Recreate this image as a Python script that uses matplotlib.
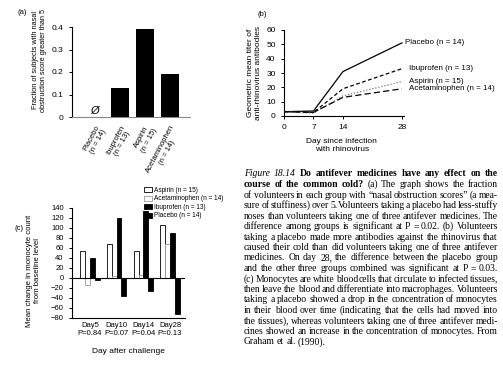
import matplotlib
matplotlib.use('Agg')
import matplotlib.pyplot as plt
import numpy as np

W, H = 503, 379
SANS = 'Liberation Sans'
SERIF = 'Liberation Serif'

# (a) fraction of subjects with nasal obstruction score > 5
a_groups = ['Placebo\n(n = 14)', 'Ibuprofen\n(n = 13)', 'Aspirin\n(n = 15)', 'Acetaminophen\n(n = 14)']
a_values = [0.0, 0.13, 0.39, 0.19]

# (b) geometric mean titer of anti-rhinovirus antibodies
b_days = [0, 7, 14, 28]
b_placebo = [3, 3.5, 31, 51]
b_ibuprofen = [3, 2.5, 19, 33]
b_aspirin = [3, 2, 14, 24]
b_acetaminophen = [3, 2.5, 13, 19]
b_labels = ['Placebo (n = 14)', 'Ibuprofen (n = 13)', 'Aspirin (n = 15)', 'Acetaminophen (n = 14)']

# (c) mean change in monocyte count from baseline
c_days = ['Day5\nP=0.84', 'Day10\nP=0.07', 'Day14\nP=0.04', 'Day28\nP=0.13']
c_aspirin = [54, 68, 54, 106]
c_acetaminophen = [-14, 4, 7, 69]
c_ibuprofen = [40, 121, 135, 91]
c_placebo = [-3, -36, -26, -72]
c_labels = ['Aspirin (n = 15)', 'Acetaminophen (n = 14)', 'Ibuprofen (n = 13)', 'Placebo (n = 14)']

caption = [
    [("Figure 18.14", {'style': 'italic'}), ("Do antifever medicines have any effect on the", {'weight': 'bold'})],
    [("course of the common cold?", {'weight': 'bold'}), ("(a) The graph shows the fraction", {})],
    [("of volunteers in each group with \u201cnasal obstruction scores\u201d (a mea-", {})],
    [("sure of stuffiness) over 5. Volunteers taking a placebo had less-stuffy", {})],
    [("noses than volunteers taking one of three antifever medicines. The", {})],
    [("difference among groups is significant at P = 0.02.", {}), ("(b) Volunteers", {})],
    [("taking a placebo made more antibodies against the rhinovirus that", {})],
    [("caused their cold than did volunteers taking one of three antifever", {})],
    [("medicines. On day 28, the difference between the placebo group", {})],
    [("and the other three groups combined was significant at P = 0.03.", {})],
    [("(c) Monocytes are white blood cells that circulate to infected tissues,", {})],
    [("then leave the blood and differentiate into macrophages. Volunteers", {})],
    [("taking a placebo showed a drop in the concentration of monocytes", {})],
    [("in their blood over time (indicating that the cells had moved into", {})],
    [("the tissues), whereas volunteers taking one of three antifever medi-", {})],
    [("cines showed an increase in the concentration of monocytes. From", {})],
    [("Graham et al. (1990).", {})],
]


def px_rect(left, top, right, bottom):
    # pixel box -> figure fraction rect
    return [left / W, 1 - bottom / H, (right - left) / W, (bottom - top) / H]


plt.rcParams['font.family'] = SANS
plt.rcParams['axes.linewidth'] = 0.8
plt.rcParams['xtick.major.width'] = 0.7
plt.rcParams['ytick.major.width'] = 0.7
plt.rcParams['xtick.major.size'] = 2.5
plt.rcParams['ytick.major.size'] = 2.5

fig = plt.figure(figsize=(W / 100, H / 100), dpi=100)

# ---- panel (a)
ax_a = fig.add_axes(px_rect(72, 27, 190, 117))
xa = np.arange(len(a_groups))
ax_a.bar(xa, a_values, width=0.72, color='black')
ax_a.text(0, 0.006, '\u00d8', ha='center', va='bottom', fontsize=8, style='italic')
ax_a.set_xlim(-0.92, 3.8)
ax_a.set_ylim(0, 0.4)
ax_a.set_yticks([0, 0.1, 0.2, 0.3, 0.4])
ax_a.set_yticklabels(['0', '0.1', '0.2', '0.3', '0.4'], fontsize=6)
ax_a.set_xticks(xa)
ax_a.set_xticklabels(a_groups, fontsize=5.5, rotation=62, ha='right', va='top',
                     rotation_mode='anchor', multialignment='center')
ax_a.tick_params(axis='x', length=0, pad=5)
ax_a.spines['top'].set_visible(False)
ax_a.spines['right'].set_visible(False)
ax_a.spines['bottom'].set_color('#888888')
ax_a.set_ylabel('Fraction of subjects with nasal\nobstruction score greater than 5', fontsize=5.3)
ax_a.yaxis.set_label_coords(-0.21, 0.63)
fig.text(22 / W, 1 - 12 / H, '(a)', fontsize=5.5, ha='center', va='center')

# ---- panel (b)
ax_b = fig.add_axes(px_rect(284, 30, 404, 116))
ax_b.plot(b_days, b_placebo, color='black', lw=0.9, ls='-')
ax_b.plot(b_days, b_ibuprofen, color='black', lw=0.9, ls=(0, (3, 2)))
ax_b.plot(b_days, b_aspirin, color='#777777', lw=0.9, ls=(0, (1, 1.5)))
ax_b.plot(b_days, b_acetaminophen, color='black', lw=0.9, ls=(0, (5, 2.5)))
ends = [b_placebo[-1], b_ibuprofen[-1], b_aspirin[-1], b_acetaminophen[-1]]
offs = [2, 5, 5, 5]
for lab, yv, o in zip(b_labels, ends, offs):
    ax_b.annotate(lab, (b_days[-1], yv), xytext=(o, 0), textcoords='offset points',
                  fontsize=5.8, va='center', ha='left', annotation_clip=False)
ax_b.set_xlim(0, 28.5)
ax_b.set_ylim(0, 60)
ax_b.set_xticks(b_days)
ax_b.set_yticks(range(0, 61, 10))
ax_b.tick_params(labelsize=6)
ax_b.spines['top'].set_visible(False)
ax_b.spines['right'].set_visible(False)
ax_b.set_ylabel('Geometric mean titer of\nanti-rhinovirus antibodies', fontsize=6)
ax_b.yaxis.set_label_coords(-0.18, 0.5)
ax_b.set_xlabel('Day since infection\nwith rhinovirus', fontsize=6)
ax_b.xaxis.set_label_coords(0.48, -0.26)
fig.text(262 / W, 1 - 15 / H, '(b)', fontsize=5.5, ha='center', va='center')

# ---- panel (c)
ax_c = fig.add_axes(px_rect(72, 208, 185, 318))
xc = np.arange(len(c_days))
w = 0.18
series = [c_aspirin, c_acetaminophen, c_ibuprofen, c_placebo]
faces = ['white', 'white', 'black', 'black']
edges = ['black', '#999999', 'black', 'black']
for i, (vals, fc, ec, lab) in enumerate(zip(series, faces, edges, c_labels)):
    ax_c.bar(xc + (i - 1.5) * w, vals, width=w, color=fc, edgecolor=ec, lw=0.6, label=lab)
ax_c.axhline(0, color='black', lw=0.8)
ax_c.set_xlim(-0.67, 3.56)
ax_c.set_ylim(-80, 140)
ax_c.set_yticks(range(-80, 141, 20))
ax_c.tick_params(axis='y', labelsize=5.5)
ax_c.set_xticks(xc)
ax_c.set_xticklabels(c_days, fontsize=5.5)
ax_c.tick_params(axis='x', length=0, pad=3)
ax_c.spines['top'].set_visible(False)
ax_c.spines['right'].set_visible(False)
ax_c.set_ylabel('Mean change in monocyte count\nfrom baseline level', fontsize=5.6)
ax_c.yaxis.set_label_coords(-0.27, 0.43)
ax_c.set_xlabel('Day after challenge', fontsize=6)
ax_c.xaxis.set_label_coords(0.5, -0.27)
leg = ax_c.legend(loc='upper left', bbox_to_anchor=(144 / W, 1 - 187 / H), bbox_transform=fig.transFigure,
                  frameon=False, fontsize=4.7, handlelength=1.2, handleheight=0.8,
                  handletextpad=0.4, labelspacing=0.22, borderpad=0, borderaxespad=0)
fig.text(19 / W, 1 - 229 / H, '(c)', fontsize=5.5, ha='center', va='center')

# ---- caption, justified between x0 and x1
renderer = fig.canvas.get_renderer()
x0, x1 = 244, 498
for li, runs in enumerate(caption):
    y = 174 + li * 10.5
    words = []
    for txt, style in runs:
        for wd in txt.split():
            words.append((wd, style))
    arts, widths = [], []
    for wd, style in words:
        t = fig.text(0, 1 - y / H, wd, fontsize=6.9, family=SERIF, va='center', ha='left', **style)
        arts.append(t)
        widths.append(t.get_window_extent(renderer).width)
    if li < len(caption) - 1 and len(words) > 1:
        gap = (x1 - x0 - sum(widths)) / (len(words) - 1)
    else:
        gap = 2.2
    x = x0
    for t, wd in zip(arts, widths):
        t.set_x(x / W)
        x += wd + gap

fig.savefig('out.png', dpi=100)
